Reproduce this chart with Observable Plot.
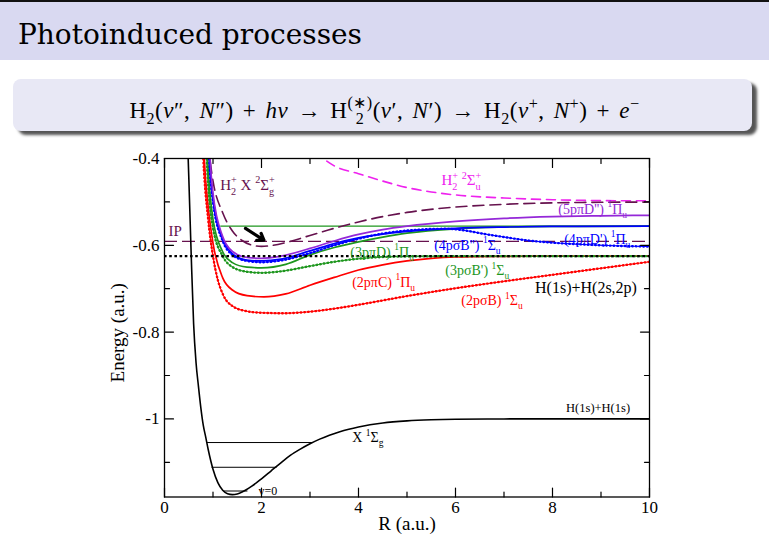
<!DOCTYPE html>
<html><head><meta charset="utf-8">
<script src="https://cdn.jsdelivr.net/npm/d3@7"></script>
<script src="https://cdn.jsdelivr.net/npm/@observablehq/plot@0.6"></script>
<style>
html,body{margin:0;padding:0;background:#fff;width:769px;height:560px;overflow:hidden;position:relative;}
#bar{position:absolute;left:0;top:0;width:769px;height:60px;background:#d9d9f1;border-top:2px solid #111;box-sizing:border-box;}
#title{position:absolute;left:18px;top:19px;font-family:"DejaVu Serif",serif;font-size:28px;line-height:28px;color:#000;}
#box{position:absolute;left:13px;top:79px;width:739px;height:52px;background:#e8e8f5;border-radius:8px;box-shadow:5px 4px 3px #555;}
#formula{position:absolute;left:0;top:95px;width:769px;text-align:center;font-family:"Liberation Serif",serif;font-size:23px;line-height:23px;color:#000;letter-spacing:0.5px;word-spacing:3px;white-space:nowrap;}
#formula sub,#formula sup{line-height:0;font-size:0.7em;}
#formula .ss{display:inline-flex;flex-direction:column;vertical-align:0.62em;font-size:0.7em;line-height:1.0;}
#chart{position:absolute;left:0;top:140px;}
</style></head>
<body>
<div id="bar"><div id="title">Photoinduced processes</div></div>
<div id="box"></div>
<div id="formula">H<sub>2</sub>(<i>v</i>″, <i>N</i>″) + <i>hν</i> → H<span class="ss"><span>(∗)</span><span>2</span></span>(<i>v</i>′, <i>N</i>′) → H<sub>2</sub>(<i>v</i><sup>+</sup>, <i>N</i><sup>+</sup>) + <i>e</i><sup>−</sup></div>
<div id="chart"></div>
<script>
// ---------- data (R in a.u., energy in a.u.) ----------
const xMajor = [0, 2, 4, 6, 8, 10];
const xMinor = [1, 3, 5, 7, 9];
const yMajor = [-1, -0.8, -0.6, -0.4];
const yMinor = [-1.1, -0.9, -0.7, -0.5];

// ground state X 1Σg+
const R_X = [0.45,0.5,0.55,0.6,0.65,0.7,0.75,0.8,0.85,0.9,1.0,1.1,1.2,1.3,1.4,1.5,1.6,1.8,2.0,2.2,2.4,2.6,2.8,3.0,3.2,3.4,3.6,3.8,4.0,4.5,5.0,5.5,6,7,8,10];
const E_X = [-0.27,-0.44,-0.62,-0.78,-0.87,-0.925,-0.975,-1.015,-1.042,-1.07,-1.116,-1.147,-1.1645,-1.1725,-1.1745,-1.1729,-1.1686,-1.1551,-1.1381,-1.1196,-1.1012,-1.0837,-1.0697,-1.0573,-1.0466,-1.0375,-1.03,-1.0237,-1.0185,-1.0093,-1.0045,-1.002,-1.0008,-1.0001,-1.0,-1.0];
// vibrational levels of X
const levE  = [-1.1662, -1.1115, -1.0545];
const levR1 = [1.22, 0.97, 0.87];
const levR2 = [1.71, 2.31, 3.05];

// (2pσB) 1Σu
const R_B = [0.78,0.8,0.9,1.0,1.1,1.2,1.4,1.7,2.0,2.46,3.0,3.5,4.0,5.0,6.0,7.0,8.0,9.0,10];
const E_B = [-0.35,-0.40,-0.54,-0.625,-0.68,-0.712,-0.74,-0.752,-0.7555,-0.7565,-0.753,-0.746,-0.737,-0.717,-0.699,-0.683,-0.668,-0.653,-0.638];
// (2pπC) 1Πu
const R_C = [0.8,0.82,0.9,1.0,1.2,1.4,1.7,2.05,2.5,3.0,3.5,4.0,4.5,5.0,5.5,6.0,7.0,8.0,10];
const E_C = [-0.35,-0.40,-0.51,-0.595,-0.675,-0.703,-0.716,-0.719,-0.712,-0.692,-0.674,-0.657,-0.645,-0.636,-0.630,-0.627,-0.6255,-0.625,-0.625];
// (3pσB') 1Σu
const R_Bp = [0.85,0.87,1.0,1.2,1.4,1.7,2.0,2.4,3.0,3.5,4.0,4.5,5.0,6.0,10];
const E_Bp = [-0.35,-0.40,-0.56,-0.625,-0.65,-0.661,-0.6635,-0.66,-0.648,-0.638,-0.631,-0.627,-0.6255,-0.625,-0.625];
// (3pπD) 1Πu
const R_D = [0.87,0.89,1.0,1.2,1.4,1.7,2.0,2.5,3.0,3.5,4.0,4.5,5.0,6.0,7.0,8.0,10];
const E_D = [-0.35,-0.40,-0.54,-0.615,-0.64,-0.6505,-0.652,-0.644,-0.622,-0.605,-0.592,-0.581,-0.572,-0.562,-0.558,-0.5565,-0.5558];
// (4pσB'') 1Σu
const R_Bpp = [0.9,0.92,1.0,1.2,1.4,1.7,2.0,2.4,3.0,3.5,4.0,4.5,5.0,5.5,5.8,6.2,6.6,7.0,7.5,8.0,9.0,10];
const E_Bpp = [-0.35,-0.40,-0.50,-0.59,-0.622,-0.636,-0.639,-0.635,-0.618,-0.600,-0.585,-0.573,-0.566,-0.5625,-0.562,-0.566,-0.574,-0.581,-0.589,-0.594,-0.600,-0.603];
// (4pπD') 1Πu
const R_Dp = [0.91,0.93,1.0,1.2,1.4,1.7,2.0,2.4,3.0,3.5,4.0,5.0,6.0,7.0,8.0,10];
const E_Dp = [-0.35,-0.40,-0.49,-0.585,-0.619,-0.634,-0.636,-0.632,-0.613,-0.596,-0.583,-0.568,-0.561,-0.558,-0.5565,-0.5558];
// (5pπD'') 1Πu
const R_Dpp = [0.92,0.94,1.0,1.2,1.4,1.7,2.0,2.4,3.0,3.5,4.0,4.5,5.0,6.0,7.0,8.0,9.0,10];
const E_Dpp = [-0.35,-0.40,-0.48,-0.58,-0.614,-0.628,-0.630,-0.625,-0.607,-0.590,-0.575,-0.564,-0.556,-0.545,-0.538,-0.534,-0.532,-0.531];
// H2+ X 2Σg+
const R_Ion = [0.9,1.0,1.2,1.4,1.6,1.8,2.0,2.2,2.5,3.0,3.5,4.0,5.0,6.0,7.0,8.0,9.0,10];
const E_Ion = [-0.37,-0.4517,-0.525,-0.567,-0.589,-0.5996,-0.6026,-0.6007,-0.5938,-0.5774,-0.5608,-0.5461,-0.5242,-0.5119,-0.5056,-0.5023,-0.5009,-0.5004];
// H2+ 2Σu+
const R_IonU = [3.1,3.5,4.0,4.5,5.0,5.5,6.0,7.0,8.0,9.0,10];
const E_IonU = [-0.385,-0.417,-0.435,-0.452,-0.467,-0.477,-0.484,-0.491,-0.495,-0.497,-0.4975];

// reference energies
const ipE = [-0.591];          // ionisation potential
const n2E = [-0.625];          // H(1s)+H(n=2)
const n3E = [-0.5556];         // level drawn in green
const n3R1 = [1.15], n3R2 = [10];

// arrow
const arrowR1 = [1.67], arrowE1 = [-0.561], arrowR2 = [2.05], arrowE2 = [-0.588];

// labels (markup: ^{..} superscript, _{..} subscript)
const labelText = [
  "H_{2}^{+} X ^{2}Σ_{g}^{+}", "IP", "H_{2}^{+} ^{2}Σ_{u}^{+}",
  "(5pπD'') ^{1}Π_{u}", "(4pπD') ^{1}Π_{u}", "(4pσB'') ^{1}Σ_{u}",
  "(3pπD) ^{1}Π_{u}", "(3pσB') ^{1}Σ_{u}", "(2pπC) ^{1}Π_{u}", "(2pσB) ^{1}Σ_{u}",
  "H(1s)+H(2s,2p)", "H(1s)+H(1s)", "X ^{1}Σ_{g}", "v=0"
];
const labelR = [1.15, 0.08, 5.71, 8.12, 8.24, 5.56, 3.83, 5.79, 3.87, 6.12, 7.64, 8.28, 3.87, 1.94];
const labelE = [-0.462, -0.568, -0.451, -0.517, -0.586, -0.600, -0.616, -0.658, -0.685, -0.727, -0.697, -0.974, -1.043, -1.166];

// ---------- styles ----------
const C = {red:"#ff0000", green:"#1e961e", blue:"#0000ff", purple:"#9428d8", maroon:"#66124e", magenta:"#ee22ee", black:"#000"};
const labelColor = [C.maroon, C.maroon, C.magenta, C.purple, C.blue, C.blue, C.green, C.green, C.red, C.red, C.black, C.black, C.black, C.black];
const labelSize  = [15, 15, 15, 14, 14, 14, 14, 14, 14, 14, 16, 12.5, 14, 12];

const pts = (R, E) => R.map((r, i) => ({r, e: E[i]}));
const curve = (R, E, color, extra = {}) => Plot.line(pts(R, E), {x: "r", y: "e", stroke: color, strokeWidth: 1.7, curve: "monotone-x", clip: true, ...extra});
const marked = (R, E, color) => [
  curve(R, E, color, {strokeWidth: 1.0}),
  curve(R, E, color, {strokeWidth: 2.4, strokeDasharray: "0.5,3.2"})
];
const tickShape = {draw(ctx, l) { ctx.moveTo(0, 0); ctx.lineTo(0, -l); }};
const ticks = (vals, ch, anchor, rot, len) => Plot.vector(vals, {[ch]: d => d, frameAnchor: anchor, rotate: rot, length: len, anchor: "start", shape: tickShape, stroke: "black", strokeWidth: 1.2});

const labelData = labelText.map((t, i) => ({t, r: labelR[i], e: labelE[i], c: labelColor[i], s: labelSize[i]}));

const chart = Plot.plot({
  width: 769, height: 400,
  marginLeft: 164, marginRight: 120, marginTop: 18, marginBottom: 43.5,
  x: {domain: [0, 10]},
  y: {domain: [-1.18, -0.4]},
  color: {type: "identity"},
  style: {fontFamily: '"Liberation Serif", "Times New Roman", serif', background: "transparent", color: "black"},
  marks: [
    Plot.ruleY(ipE, {stroke: C.maroon, strokeWidth: 1.4, strokeDasharray: "13,5"}),
    Plot.link(n3R1.map((r, i) => ({r1: r, r2: n3R2[i], e: n3E[i]})), {x1: "r1", x2: "r2", y1: "e", y2: "e", stroke: C.green, strokeWidth: 1.2}),
    Plot.link(levE.map((e, i) => ({e, r1: levR1[i], r2: levR2[i]})), {x1: "r1", x2: "r2", y1: "e", y2: "e", stroke: "black", strokeWidth: 1}),
    curve(R_IonU, E_IonU, C.magenta, {strokeWidth: 1.6, strokeDasharray: "9,6"}),
    curve(R_Ion, E_Ion, C.maroon, {strokeWidth: 1.6, strokeDasharray: "11,6"}),
    ...marked(R_B, E_B, C.red),
    curve(R_C, E_C, C.red),
    ...marked(R_Bp, E_Bp, C.green),
    curve(R_D, E_D, C.green),
    ...marked(R_Bpp, E_Bpp, C.blue),
    curve(R_Dp, E_Dp, C.blue),
    curve(R_Dpp, E_Dpp, C.purple),
    Plot.ruleY(n2E, {stroke: "black", strokeWidth: 2.4, strokeDasharray: "2.6,2.6"}),
    curve(R_X, E_X, "black", {strokeWidth: 1.6}),
    Plot.arrow(arrowR1.map((r, i) => ({r1: r, e1: arrowE1[i], r2: arrowR2[i], e2: arrowE2[i]})), {x1: "r1", y1: "e1", x2: "r2", y2: "e2", stroke: "black", strokeWidth: 3.2, headLength: 11, headAngle: 70}),
    Plot.text(labelData, {x: "r", y: "e", text: "t", fill: "c", fontSize: "s", textAnchor: "start"}),
    Plot.frame({stroke: "black", strokeWidth: 1.3}),
    ticks(xMajor, "x", "bottom", 0, 9), ticks(xMinor, "x", "bottom", 0, 5),
    ticks(xMajor, "x", "top", 180, 9), ticks(xMinor, "x", "top", 180, 5),
    ticks(yMajor, "y", "left", 90, 9), ticks(yMinor, "y", "left", 90, 5),
    ticks(yMajor, "y", "right", -90, 9), ticks(yMinor, "y", "right", -90, 5),
    Plot.axisX(xMajor, {tickSize: 0, tickPadding: 4, fontSize: 17, tickFormat: d => String(d), label: null}),
    Plot.axisY(yMajor, {tickSize: 0, tickPadding: 5, fontSize: 17, tickFormat: d => String(d), label: null}),
    Plot.text(["Energy (a.u.)"], {frameAnchor: "left", textAnchor: "middle", lineAnchor: "middle", dx: -47, dy: 5, rotate: -90, fontSize: 19}),
    Plot.text(["R (a.u.)"], {frameAnchor: "bottom", textAnchor: "middle", lineAnchor: "middle", dy: 27, fontSize: 19})
  ]
});
document.getElementById("chart").appendChild(chart);

// render ^{..} / _{..} markup as tspans
function richify(root) {
  const NS = "http://www.w3.org/2000/svg";
  root.querySelectorAll("text").forEach(t => {
    const s = t.textContent;
    if (!/[\^_]\{/.test(s)) return;
    const fs = parseFloat(getComputedStyle(t).fontSize) || 12;
    const parts = s.split(/([\^_]\{[^}]*\})/).filter(p => p !== "");
    while (t.firstChild) t.removeChild(t.firstChild);
    let cur = 0, prev = null, prevType = null;
    for (const p of parts) {
      let type = "n", txt = p;
      if (p.startsWith("^{")) { type = "sup"; txt = p.slice(2, -1); }
      else if (p.startsWith("_{")) { type = "sub"; txt = p.slice(2, -1); }
      const target = type === "sup" ? -0.45 * fs : type === "sub" ? 0.3 * fs : 0;
      const ts = document.createElementNS(NS, "tspan");
      ts.setAttribute("dy", (target - cur).toFixed(2));
      if (type !== "n") ts.setAttribute("font-size", (0.68 * fs).toFixed(1));
      ts.textContent = txt;
      t.appendChild(ts);
      if (type === "sup" && prevType === "sub" && prev) {
        ts.setAttribute("dx", (-prev.getComputedTextLength()).toFixed(2));
      }
      cur = target; prev = ts; prevType = type;
    }
  });
}
richify(chart);
</script>
</body></html>
